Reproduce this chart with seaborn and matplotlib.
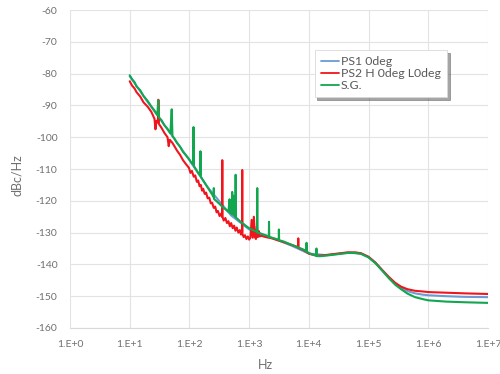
import numpy as np
import pandas as pd
import matplotlib
matplotlib.use("Agg")
import matplotlib.pyplot as plt
import seaborn as sns

# -----------------------------
# Data
# -----------------------------
ps1_hz = [10, 20, 50, 100, 200, 500, 1000, 2000, 5000, 10000, 20000, 45000,
          75000, 1e5, 1.3e5, 1.7e5, 2.2e5, 2.8e5, 3.5e5, 4.5e5, 6e5, 8e5,
          1e6, 2e6, 4e6, 1e7]
ps1_db = [-80.8, -88.9, -99.2, -107.2, -115.6, -124.6, -129.0, -131.0, -134.0,
          -136.6, -137.1, -136.3, -136.6, -137.7, -139.5, -141.9, -144.2,
          -146.1, -147.4, -148.4, -149.1, -149.5, -149.7, -150.0, -150.2, -150.3]

ps2_hz = [10, 11, 12, 13, 15, 17, 20, 23, 26, 27, 28, 29.8, 30.2, 30.8, 34, 38,
          43, 45, 47, 52, 56, 62, 70, 78, 87, 98, 104, 110, 118, 125, 133, 140,
          148, 155, 163, 170, 180, 190, 202, 215, 228, 240, 255, 270, 285, 300,
          320, 340, 352, 355, 358, 375, 400, 425, 450, 475, 500, 530, 560, 590,
          620, 660, 700, 730, 760, 766, 772, 810, 850, 900, 950, 1000, 1050,
          1100, 1150, 1200, 1250, 1300, 1350, 1400, 1450, 1500, 1600, 1900,
          2400, 3000, 3800, 4700, 5800, 6600, 6650, 6700, 8000, 10000, 13000,
          16000, 20000, 30000, 45000, 60000, 75000, 1e5, 1.3e5, 1.7e5, 2.2e5,
          2.8e5, 3.5e5, 4.5e5, 6e5, 8e5, 1e6, 2e6, 4e6, 1e7]
ps2_db = [-82.4, -83.8, -84.6, -85.8, -87.2, -89.0, -90.4, -92.0, -94.2, -97.5,
          -94.8, -95.4, -88.2, -95.8, -97.0, -98.6, -100.0, -102.8, -100.8,
          -101.8, -102.8, -104.2, -105.6, -107.2, -108.4, -109.6, -111.2,
          -110.6, -112.4, -112.0, -114.0, -113.6, -115.4, -115.0, -116.8,
          -116.2, -117.8, -117.4, -119.2, -119.0, -120.8, -120.6, -122.2,
          -121.8, -123.6, -123.2, -124.8, -124.0, -125.0, -107.2, -125.0,
          -126.2, -125.4, -127.0, -126.4, -128.0, -127.0, -128.6, -127.8,
          -129.4, -128.4, -130.0, -129.2, -130.6, -130.0, -110.3, -130.4,
          -131.4, -130.8, -132.0, -131.2, -132.2, -131.6, -126.0, -131.6,
          -125.0, -131.4, -132.0, -128.0, -131.4, -129.5, -131.2, -131.0,
          -131.4, -131.8, -132.4, -133.0, -133.6, -134.2, -134.6, -131.8,
          -134.8, -135.4, -136.6, -137.2, -137.2, -137.0, -136.6, -136.2,
          -136.2, -136.5, -137.6, -139.4, -141.8, -144.0, -145.8, -147.0,
          -147.8, -148.3, -148.5, -148.7, -148.9, -149.1, -149.3]

sg_hz = [10, 11, 12, 13, 15, 17, 20, 23, 26, 29, 30, 31, 34, 38, 43, 48, 50.5,
         52, 56, 62, 70, 78, 87, 98, 110, 116, 117, 118.5, 130, 142, 151, 153,
         155, 170, 190, 215, 240, 254, 256, 258, 280, 320, 360, 410, 450, 470,
         480, 500, 503, 515, 520, 525, 540, 545, 560, 590, 594, 598, 650, 720,
         800, 900, 1000, 1150, 1300, 1360, 1367, 1375, 1500, 1700, 1900, 2140,
         2150, 2170, 2600, 3130, 3150, 3180, 3800, 4500, 5400, 6500, 7800,
         9100, 9150, 9200, 11000, 13300, 13400, 13500, 16000, 20000, 30000,
         45000, 60000, 75000, 1e5, 1.3e5, 1.7e5, 2.2e5, 2.8e5, 3.5e5, 4.5e5,
         6e5, 8e5, 1e6, 2e6, 4e6, 1e7]
sg_db = [-80.5, -81.8, -82.6, -84.0, -85.2, -87.0, -88.6, -90.3, -91.6, -93.0,
         -88.4, -93.8, -94.6, -96.2, -97.4, -98.8, -91.2, -99.6, -100.4,
         -101.8, -103.0, -104.6, -105.6, -106.8, -108.2, -108.6, -96.8,
         -109.0, -110.2, -111.4, -112.0, -104.4, -112.4, -113.6, -115.0,
         -116.6, -118.0, -118.8, -116.0, -119.4, -120.0, -121.0, -122.0,
         -122.8, -123.4, -119.5, -123.8, -124.0, -120.8, -124.0, -117.2,
         -124.2, -124.4, -118.4, -124.6, -125.0, -111.8, -125.2, -125.8,
         -126.6, -127.2, -128.0, -128.6, -129.2, -129.6, -129.8, -116.0,
         -130.0, -130.2, -130.6, -130.9, -131.2, -126.6, -131.4, -131.8,
         -132.2, -129.0, -132.4, -132.8, -133.4, -134.0, -134.6, -135.2,
         -135.8, -133.2, -136.0, -136.8, -137.2, -135.0, -137.4, -137.4,
         -137.2, -136.8, -136.4, -136.4, -136.7, -137.8, -139.6, -142.0,
         -144.4, -146.4, -147.8, -149.2, -150.3, -150.9, -151.3, -151.7,
         -151.9, -152.1]

series_names = ["PS1 0deg", "PS2 H 0deg L0deg", "S.G."]
series_colors = ["#6a9bd4", "#f0151c", "#12a64f"]

x_ticks = [1e0, 1e1, 1e2, 1e3, 1e4, 1e5, 1e6, 1e7]
x_labels = ["1.E+0", "1.E+1", "1.E+2", "1.E+3", "1.E+4", "1.E+5", "1.E+6", "1.E+7"]
y_ticks = list(range(-160, -59, 10))

df = pd.concat([
    pd.DataFrame({"Hz": ps1_hz, "dB": ps1_db, "series": series_names[0]}),
    pd.DataFrame({"Hz": ps2_hz, "dB": ps2_db, "series": series_names[1]}),
    pd.DataFrame({"Hz": sg_hz, "dB": sg_db, "series": series_names[2]}),
], ignore_index=True)

# -----------------------------
# Plot
# -----------------------------
sns.set_style("white")
plt.rcParams["font.family"] = ["Lato", "DejaVu Sans"]

fig = plt.figure(figsize=(5.0, 3.74), dpi=100)
ax = fig.add_axes([0.14, 0.123, 0.836, 0.850])

sns.lineplot(
    data=df, x="Hz", y="dB", hue="series", hue_order=series_names,
    palette=dict(zip(series_names, series_colors)),
    sort=False, estimator=None, linewidth=1.5, ax=ax, legend=False,
)

ax.set_xscale("log")
ax.set_xlim(1e0, 1e7)
ax.set_ylim(-160, -60)
ax.set_xticks(x_ticks)
ax.set_xticklabels(x_labels)
ax.xaxis.set_minor_locator(matplotlib.ticker.NullLocator())
ax.set_yticks(y_ticks)
ax.set_yticklabels([str(v) for v in y_ticks])

ax.grid(True, color="#e3e3e3", linewidth=0.8)
ax.set_axisbelow(True)
for side in ["top", "right", "left"]:
    ax.spines[side].set_visible(False)
ax.spines["bottom"].set_color("#d9d9d9")
ax.spines["bottom"].set_linewidth(0.8)

ax.tick_params(axis="both", length=0, labelsize=7.5, labelcolor="#707070")
ax.tick_params(axis="x", pad=9)
ax.tick_params(axis="y", pad=9)

ax.set_xlabel("Hz", fontsize=9, color="#707070")
ax.set_ylabel("dBc/Hz", fontsize=9, color="#707070")
ax.xaxis.set_label_coords(0.467, -0.098)
ax.yaxis.set_label_coords(-0.112, 0.48)

handles = [plt.Line2D([], [], color=c, linewidth=1.3) for c in series_colors]
leg = ax.legend(
    handles, series_names, loc="upper left", bbox_to_anchor=(0.585, 0.874),
    frameon=True, fancybox=False, shadow=True, fontsize=8.8,
    handlelength=1.5, handletextpad=0.15, labelspacing=0.08,
    borderpad=0.5, borderaxespad=0,
)
leg.get_frame().set_edgecolor("#d9d9d9")
leg.get_frame().set_linewidth(0.6)
for t in leg.get_texts():
    t.set_color("#595959")

plt.savefig("out.png", dpi=100)
plt.close()
